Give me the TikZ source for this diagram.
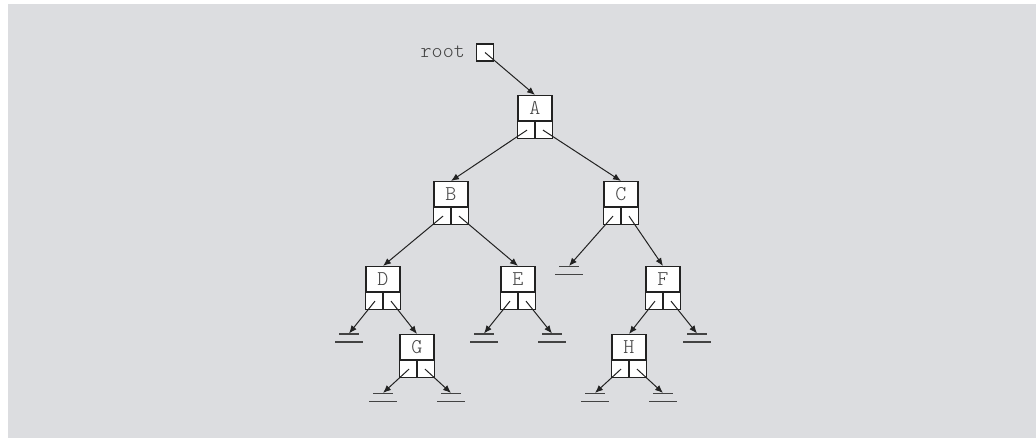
\documentclass[tikz,border=0pt]{standalone}
\usepackage{fontspec}
\setmonofont{lmmonolt10-regular.otf}
\usetikzlibrary{calc,arrows.meta}
\definecolor{bg}{HTML}{DCDDE0}
\definecolor{ink}{HTML}{222222}
\tikzset{
  tnode/.style={draw=ink, fill=white, line width=1.1pt, minimum width=34pt,
    minimum height=25pt, inner sep=0pt, anchor=north,
    font=\ttfamily\fontsize{21}{21}\selectfont, text=ink!85},
  cell/.style={draw=ink, fill=white, line width=1.1pt},
  arr/.style={draw=ink, line width=1pt, -{Latex[length=8pt,width=6.5pt]}},
  nullline/.style={draw=ink!85, line width=1.4pt},
  rootbox/.style={draw=ink, fill=white, line width=1.1pt, minimum size=17pt, inner sep=0pt},
  lbl/.style={font=\ttfamily\fontsize{21}{21}\selectfont, text=ink!85, inner sep=0pt}
}
\newcommand\treenode[3]{%
  \node[tnode] (#1) at (#2) {#3};
  \draw[cell] (#1.south west) rectangle ($(#1.south east)+(0,17)$);
  \draw[cell] (#1.south) -- ($(#1.south)+(0,17)$);
  \coordinate (#1-l) at ($(#1.south)+(-8,9)$);
  \coordinate (#1-r) at ($(#1.south)+(8,9)$);
}
\newcommand\nullmark[2]{%
  \coordinate (#1) at (#2);
  \draw[nullline] ($(#1)+(-10,0.5)$) -- ($(#1)+(10,0.5)$);
  \draw[nullline] ($(#1)+(-14,8.5)$) -- ($(#1)+(14,8.5)$);
}
\begin{document}
\begin{tikzpicture}[x=1pt,y=-1pt]
  \useasboundingbox (0,0) rectangle (1036,438);
  \fill[bg] (8,4) rectangle (1036,438);
  % root
  \node[lbl, anchor=base east] (rootlbl) at (465,57.5) {root};
  \node[rootbox] (root) at (485,52.5) {};
  % tree nodes
  \treenode{A}{535,95}{A}
  \treenode{B}{451,181}{B}
  \treenode{C}{621,181}{C}
  \treenode{D}{383,266}{D}
  \treenode{E}{518,266}{E}
  \treenode{F}{663,266}{F}
  \treenode{G}{417,334}{G}
  \treenode{H}{629,334}{H}
  % null markers
  \nullmark{nC}{569,266}
  \nullmark{nD}{349,333.5}
  \nullmark{nEl}{484,333.5}
  \nullmark{nEr}{552,333.5}
  \nullmark{nF}{697,333.5}
  \nullmark{nGl}{383,393}
  \nullmark{nGr}{451,393}
  \nullmark{nHl}{595,393}
  \nullmark{nHr}{663,393}
  % connectors
  \draw[arr] (root.center) -- (A.north);
  \draw[arr] (A-l) -- (B.north);
  \draw[arr] (A-r) -- (C.north);
  \draw[arr] (B-l) -- (D.north);
  \draw[arr] (B-r) -- (E.north);
  \draw[arr] (C-l) -- (nC);
  \draw[arr] (C-r) -- (F.north);
  \draw[arr] (D-l) -- (nD);
  \draw[arr] (D-r) -- (G.north);
  \draw[arr] (E-l) -- (nEl);
  \draw[arr] (E-r) -- (nEr);
  \draw[arr] (F-l) -- (H.north);
  \draw[arr] (F-r) -- (nF);
  \draw[arr] (G-l) -- (nGl);
  \draw[arr] (G-r) -- (nGr);
  \draw[arr] (H-l) -- (nHl);
  \draw[arr] (H-r) -- (nHr);
\end{tikzpicture}
\end{document}
